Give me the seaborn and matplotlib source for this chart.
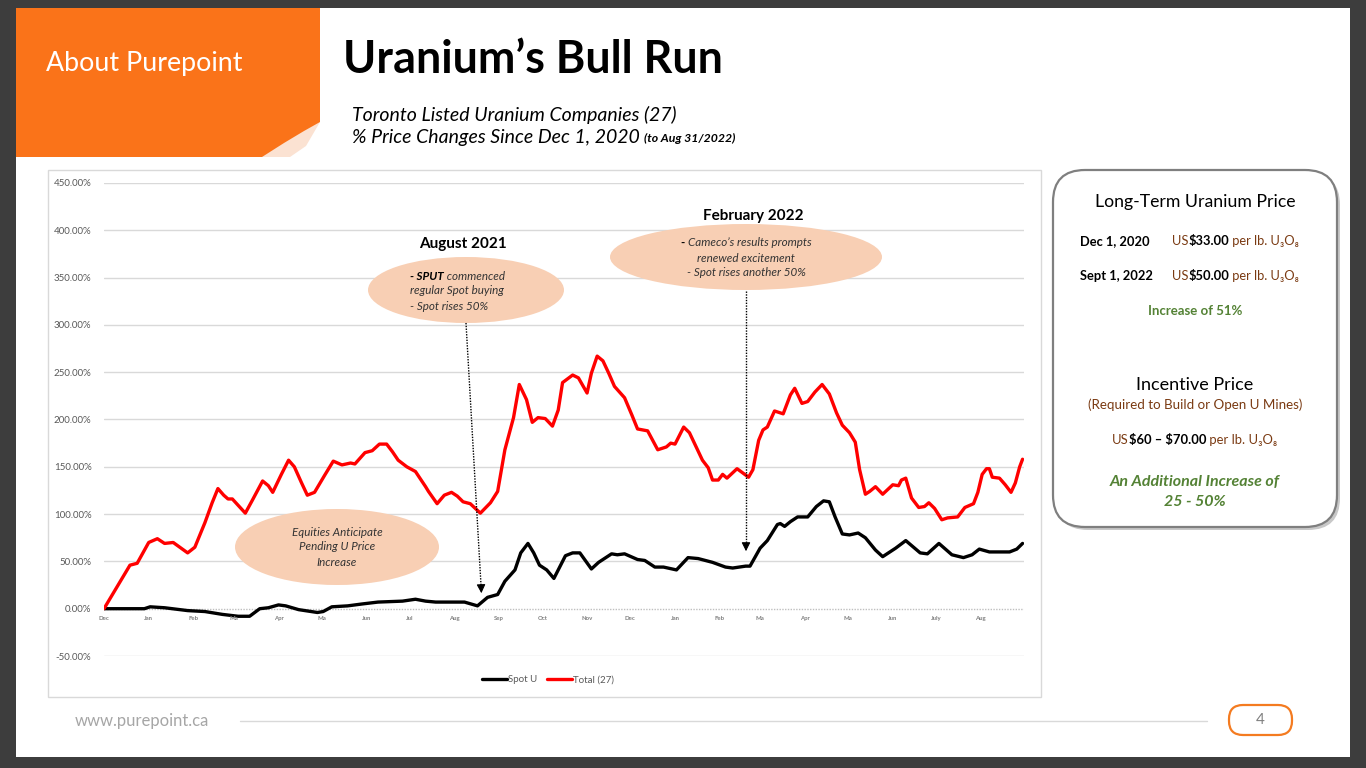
import numpy as np
import pandas as pd
import matplotlib
matplotlib.use("Agg")
import matplotlib.pyplot as plt
import seaborn as sns
from matplotlib.patches import Ellipse, FancyBboxPatch, Polygon, Rectangle
from matplotlib.lines import Line2D

# ---------------- data ----------------
start_date = "2020-12-01"
end_date = "2022-08-31"

total_days = [0, 11, 18, 23, 31, 37, 42, 48, 58, 63, 70, 75, 79, 83, 86, 89, 98, 103, 110, 114,
              117, 123, 128, 132, 137, 141, 146, 153, 159, 165, 171, 174, 181, 186, 191, 196, 200,
              204, 210, 216, 223, 225, 231, 236, 241, 245, 249, 254, 261, 268, 273, 278, 284, 288,
              293, 297, 301, 306, 311, 315, 318, 325, 329, 335, 338, 342, 346, 350, 354, 361, 366,
              370, 377, 384, 390, 393, 396, 402, 406, 415, 419, 422, 426, 429, 432, 439, 447, 450,
              454, 457, 460, 465, 471, 476, 479, 484, 488, 493, 498, 503, 508, 512, 517, 521, 524,
              528, 531, 535, 540, 547, 551, 553, 556, 560, 565, 569, 572, 576, 581, 585, 592, 597,
              603, 606, 609, 612, 614, 616, 621, 625, 629, 632, 635, 637]
total_pct = [0, 28, 46, 48, 70, 74, 69, 70, 59, 65, 91, 112, 127, 120, 116, 116, 101, 115, 135, 130,
             123, 142, 157, 150, 133, 120, 123, 141, 156, 152, 154, 153, 165, 167, 174, 174, 166,
             157, 150, 145, 129, 124, 111, 120, 123, 119, 113, 111, 101, 112, 124, 168, 202, 237,
             221, 197, 202, 201, 193, 210, 239, 247, 244, 228, 249, 267, 262, 249, 235, 223, 205,
             190, 188, 168, 171, 175, 174, 192, 186, 157, 149, 136, 136, 142, 138, 148, 139, 147,
             178, 189, 192, 209, 206, 226, 233, 217, 219, 229, 237, 227, 207, 194, 186, 176, 147,
             121, 124, 129, 121, 131, 130, 136, 138, 117, 107, 108, 112, 106, 94, 96, 97, 107,
             111, 123, 142, 148, 148, 139, 138, 131, 123, 133, 150, 158]

spot_days = [0, 28, 32, 42, 58, 70, 82, 93, 101, 108, 114, 121, 126, 135, 148, 152, 158, 169, 179,
             190, 207, 216, 223, 230, 250, 259, 266, 273, 278, 285, 289, 294, 298, 302, 307, 312,
             316, 320, 325, 330, 338, 343, 352, 356, 361, 370, 375, 382, 388, 397, 405, 412, 422,
             431, 436, 445, 448, 455, 460, 467, 469, 472, 476, 481, 488, 494, 499, 503, 507, 512,
             517, 523, 528, 535, 540, 549, 556, 566, 571, 579, 588, 596, 602, 607, 614, 628, 633,
             637]
spot_pct = [0, 0, 2, 1, -2, -3, -6, -8, -8, 0, 1, 4, 3, -1, -4, -3, 2, 3, 5, 7, 8, 10, 8, 7, 7, 3,
            12, 15, 29, 41, 59, 69, 59, 46, 41, 32, 44, 56, 59, 59, 42, 49, 58, 57, 58, 52, 51, 44,
            44, 41, 54, 53, 49, 44, 43, 45, 45, 64, 72, 89, 90, 87, 92, 97, 97, 108, 114, 113, 97,
            79, 78, 80, 75, 62, 55, 64, 72, 59, 58, 69, 57, 54, 57, 63, 60, 60, 63, 69]

series_names = ["Spot U", "Total (27)"]
series_colors = ["black", "red"]
month_labels = ["Dec", "Jan", "Feb", "Ma", "Apr", "Ma", "Jun", "Jul", "Aug", "Sep", "Oct", "Nov",
                "Dec", "Jan", "Feb", "Ma", "Apr", "Ma", "Jun", "July", "Aug"]
y_ticks = [-50, 0, 50, 100, 150, 200, 250, 300, 350, 400, 450]

# ---------------- build table ----------------
t0 = pd.Timestamp(start_date)
df = pd.concat([
    pd.DataFrame({"date": t0 + pd.to_timedelta(spot_days, unit="D"), "pct": spot_pct,
                  "series": series_names[0]}),
    pd.DataFrame({"date": t0 + pd.to_timedelta(total_days, unit="D"), "pct": total_pct,
                  "series": series_names[1]}),
])

sns.set_theme(style="white")
plt.rcParams["font.family"] = ["Lato", "DejaVu Sans"]

W, H = 1366, 768
fig = plt.figure(figsize=(W / 100, H / 100), dpi=100)

# ---------------- background layer ----------------
bg = fig.add_axes([0, 0, 1, 1], zorder=0)
bg.set_xlim(0, W); bg.set_ylim(H, 0); bg.axis("off")
bg.add_patch(Rectangle((0, 0), W, H, fc="#3d3d3d", ec="none"))
bg.add_patch(Rectangle((16, 8), 1334, 749, fc="white", ec="none"))
# orange header tab with curled corner
bg.add_patch(Polygon([(16, 8), (320, 8), (320, 122), (284, 157), (16, 157)], closed=True,
                     fc="#FA7319", ec="none"))
bg.add_patch(Polygon([(262, 157), (284, 143), (304, 131), (320, 122), (306, 146), (290, 157)],
                     closed=True, fc="#FBE2D2", ec="none"))
# chart frame
bg.add_patch(Rectangle((48, 170), 993, 527, fc="white", ec="#d9d9d9", lw=1))
# right info box with shadow
bg.add_patch(FancyBboxPatch((1056, 173), 284, 357, boxstyle="round,pad=0,rounding_size=32",
                            fc="#c8c8c8", ec="none"))
bg.add_patch(FancyBboxPatch((1053, 170), 284, 357, boxstyle="round,pad=0,rounding_size=32",
                            fc="white", ec="#7f7f7f", lw=1.6))
# footer
bg.plot([240, 1207], [721, 721], color="#d9d9d9", lw=1)
bg.add_patch(FancyBboxPatch((1229, 705), 63, 30, boxstyle="round,pad=0,rounding_size=14",
                            fc="white", ec="#F47B20", lw=1.6))

# ---------------- chart ----------------
ax = fig.add_axes([104 / W, 1 - 656 / H, 920 / W, 473 / H], zorder=1)
ax.patch.set_alpha(0)
sns.lineplot(data=df, x="date", y="pct", hue="series", hue_order=series_names,
             palette=dict(zip(series_names, series_colors)), lw=2.4, ax=ax, legend=False,
             estimator=None, sort=True)
ax.set_xlim(t0, pd.Timestamp(end_date))
ax.set_ylim(-50, 450)
ax.set_yticks(y_ticks)
ax.set_yticklabels([f"{v:.2f}%" for v in y_ticks], fontsize=7, color="#595959")
ax.tick_params(axis="y", length=0, pad=9)
ax.set_xticks([])
ax.set_xlabel(""); ax.set_ylabel("")
for s in ax.spines.values():
    s.set_visible(False)
for v in y_ticks:
    if v != 0:
        ax.axhline(v, color="#d9d9d9", lw=1, zorder=0)
ax.axhline(0, color="#bfbfbf", lw=1, ls=(0, (1, 1)), zorder=0)
month_starts = pd.date_range(start_date, periods=len(month_labels), freq="MS")
for d, lab in zip(month_starts, month_labels):
    ax.annotate(lab, xy=(d, 0), xytext=(0, -5), textcoords="offset points", ha="center",
                va="top", fontsize=4.3, color="#7f7f7f", fontweight="bold")

handles = [Line2D([], [], color=c, lw=2.4) for c in series_colors]
leg = ax.legend(handles, series_names, loc="center", bbox_to_anchor=(548 / W, 1 - 680 / H),
                bbox_transform=fig.transFigure, ncol=2, frameon=False, fontsize=7,
                handlelength=2.6, handletextpad=0.1, columnspacing=1.0)
for t in leg.get_texts():
    t.set_color("#595959")

# ---------------- overlay layer ----------------
ov = fig.add_axes([0, 0, 1, 1], zorder=2)
ov.set_xlim(0, W); ov.set_ylim(H, 0); ov.axis("off"); ov.patch.set_alpha(0)
renderer = fig.canvas.get_renderer()


def rich(x, y, parts, ha="left", size=9, color="#333333"):
    texts = []
    for s, kw in parts:
        props = dict(fontsize=size, color=color, va="center")
        props.update(kw)
        texts.append(ov.text(0, y, s, **props))
    widths = [t.get_window_extent(renderer).width for t in texts]
    x0 = x if ha == "left" else x - sum(widths) / 2
    for t, w in zip(texts, widths):
        t.set_x(x0)
        x0 += w


# header texts
ov.text(46, 63, "About Purepoint", color="white", fontsize=19.3, va="center", ha="left")
ov.text(343, 60, "Uranium\u2019s Bull Run", color="black", fontsize=32.3, fontweight="bold",
        va="center", ha="left")
ov.text(352, 115, "Toronto Listed Uranium Companies (27)", fontsize=14, style="italic",
        color="black", va="center")
rich(352, 138, [("% Price Changes Since Dec 1, 2020 ", dict(fontsize=14, style="italic")),
                ("(to Aug 31/2022)", dict(fontsize=8.8, style="italic", fontweight="bold"))],
     color="black")

# annotation ellipses
peach = "#F8CFB4"
ov.add_patch(Ellipse((466, 290), 196, 66, fc=peach, ec="none"))
ov.add_patch(Ellipse((746, 257), 272, 66, fc=peach, ec="none"))
ov.add_patch(Ellipse((337, 547), 204, 76, fc=peach, ec="none"))
ov.text(463, 244, "August 2021", fontsize=11, fontweight="bold", color="black", ha="center",
        va="center")
ov.text(753, 216, "February 2022", fontsize=11, fontweight="bold", color="black", ha="center",
        va="center")
ital = dict(style="italic")
rich(410, 277, [("- SPUT", dict(style="italic", fontweight="bold", color="black")),
                (" commenced", ital)], size=8.4)
rich(410, 291, [("regular Spot buying", ital)], size=8.4)
rich(410, 306, [("- Spot rises 50%", ital)], size=8.4)
rich(746, 243, [("- ", dict(fontweight="bold", color="black")),
                ("Cameco\u2019s results prompts", ital)], ha="center", size=8.4)
rich(746, 258, [("renewed excitement", ital)], ha="center", size=8.4)
rich(746, 273, [("- Spot rises another 50%", ital)], ha="center", size=8.4)
for yy, s in zip([532, 547, 562], ["Equities Anticipate", "Pending U Price", "Increase"]):
    ov.text(337, yy, s, fontsize=8.4, style="italic", color="#333333", ha="center", va="center")

# arrows
ov.plot([466, 481], [323, 585], color="black", lw=1, ls=(0, (1, 1)))
ov.annotate("", xy=(481.5, 596), xytext=(481, 584),
            arrowprops=dict(arrowstyle="-|>", color="black", lw=0.8, mutation_scale=13))
ov.plot([746, 746], [291, 543], color="black", lw=1, ls=(0, (1, 1)))
ov.annotate("", xy=(746, 554), xytext=(746, 542),
            arrowprops=dict(arrowstyle="-|>", color="black", lw=0.8, mutation_scale=13))

# right box texts
brown = "#7a3a12"
green = "#548235"
ov.text(1195, 202, "Long-Term Uranium Price", fontsize=12.7, color="black", ha="center",
        va="center")
for yy, d, p in [(241, "Dec 1, 2020", "\\$33.00"), (276, "Sept 1, 2022", "\\$50.00")]:
    ov.text(1080, yy, d, fontsize=9.3, fontweight="bold", color="black", va="center")
    rich(1172, yy, [("US", dict(color=brown)), (p, dict(fontweight="bold", color="black")),
                    (" per lb. U\u2083O\u2088", dict(color=brown))], size=9.3)
ov.text(1195, 311, "Increase of 51%", fontsize=9.5, fontweight="bold", color=green,
        ha="center", va="center")
ov.text(1195, 385, "Incentive Price", fontsize=13, color="black", ha="center", va="center")
ov.text(1195, 405, "(Required to Build or Open U Mines)", fontsize=9.6, color=brown,
        ha="center", va="center")
rich(1195, 440, [("US", dict(color=brown)),
                 ("\\$60 \u2013 \\$70.00", dict(fontweight="bold", color="black")),
                 (" per lb. U\u2083O\u2088", dict(color=brown))], ha="center", size=9.4)
ov.text(1195, 482, "An Additional Increase of", fontsize=11.5, fontweight="bold",
        style="italic", color=green, ha="center", va="center")
ov.text(1195, 502, "25 - 50%", fontsize=11.5, fontweight="bold", style="italic", color=green,
        ha="center", va="center")

# footer texts
ov.text(75, 721, "www.purepoint.ca", fontsize=12, color="#a6a6a6", va="center")
ov.text(1260, 720, "4", fontsize=11, color="#7f7f7f", ha="center", va="center")

fig.savefig("out.png", dpi=100)
